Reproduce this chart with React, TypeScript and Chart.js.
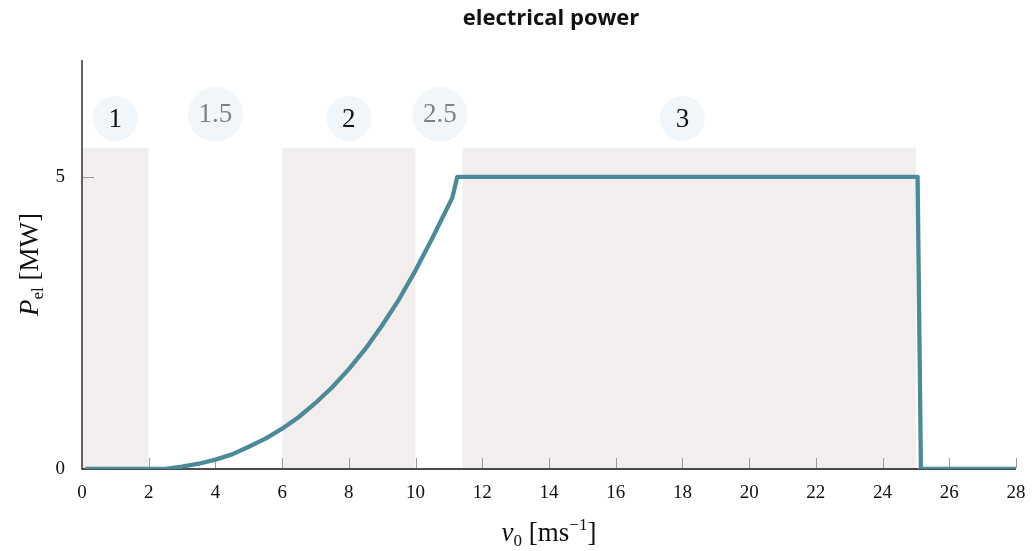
import React, { useEffect, useRef } from "react";
import { Chart, registerables } from "chart.js";
Chart.register(...registerables);

// Wind speed v0 [m/s] and electrical power P_el [MW]
const windSpeed = [0.1, 2.5, 3, 3.5, 4, 4.5, 5, 5.5, 6, 6.5, 7, 7.5, 8, 8.5, 9, 9.5, 10, 10.5, 11.1, 11.25, 25.05, 25.15, 28];
const power = [0, 0, 0.04, 0.09, 0.16, 0.25, 0.38, 0.52, 0.69, 0.89, 1.13, 1.4, 1.71, 2.06, 2.46, 2.9, 3.4, 3.95, 4.64, 5, 5, 0, 0];

// Operating regions (shaded)
const regionStart = [0, 6, 11.4];
const regionEnd = [2, 10, 25];
const regionTop = 5.5;

// Region labels
const regionLabels = ["1", "2", "3"];
const regionLabelX = [1, 8, 18];
const regionLabelY = [6, 6, 6];
const transitionLabels = ["1.5", "2.5"];
const transitionLabelX = [4, 10.73];
const transitionLabelY = [6.07, 6.07];

const xTicks = [0, 2, 4, 6, 8, 10, 12, 14, 16, 18, 20, 22, 24, 26, 28];
const yTicks = [0, 5];

const SERIF = "'Liberation Serif', 'DejaVu Serif', serif";
const BUBBLE = "#f0f6f9";

function drawRuns(ctx: CanvasRenderingContext2D, runs: { t: string; font: string; dy: number }[], cx: number, cy: number) {
  let total = 0;
  for (const r of runs) {
    ctx.font = r.font;
    total += ctx.measureText(r.t).width;
  }
  let x = cx - total / 2;
  ctx.textAlign = "left";
  ctx.textBaseline = "alphabetic";
  for (const r of runs) {
    ctx.font = r.font;
    ctx.fillText(r.t, x, cy + r.dy);
    x += ctx.measureText(r.t).width;
  }
}

const decorPlugin = {
  id: "decor",
  beforeDatasetDraw(chart: any, args: any) {
    if (args.index !== 0) return;
    const ctx: CanvasRenderingContext2D = chart.ctx;
    const area = chart.chartArea;
    ctx.save();
    ctx.strokeStyle = "#111";
    ctx.lineWidth = 1.3;
    ctx.beginPath();
    ctx.moveTo(area.left, area.top);
    ctx.lineTo(area.left, area.bottom);
    ctx.lineTo(area.right, area.bottom);
    ctx.stroke();
    // inward ticks
    const xs = chart.scales.x;
    const ys = chart.scales.y;
    ctx.strokeStyle = "#9a9a9a";
    ctx.lineWidth = 1;
    ctx.beginPath();
    for (const v of xTicks) {
      if (v === 0) continue;
      const px = Math.round(xs.getPixelForValue(v)) + 0.5;
      ctx.moveTo(px, area.bottom - 1);
      ctx.lineTo(px, area.bottom - 11);
    }
    for (const v of yTicks) {
      if (v === 0) continue;
      const py = Math.round(ys.getPixelForValue(v)) + 0.5;
      ctx.moveTo(area.left + 1, py);
      ctx.lineTo(area.left + 12, py);
    }
    ctx.stroke();
    ctx.restore();
  },
  afterDatasetsDraw(chart: any) {
    const ctx: CanvasRenderingContext2D = chart.ctx;
    const xs = chart.scales.x;
    const ys = chart.scales.y;
    const area = chart.chartArea;
    ctx.save();

    // circles + labels
    ctx.fillStyle = BUBBLE;
    regionLabels.forEach((t, i) => {
      ctx.beginPath();
      ctx.arc(xs.getPixelForValue(regionLabelX[i]), ys.getPixelForValue(regionLabelY[i]), 22.5, 0, Math.PI * 2);
      ctx.fill();
    });
    transitionLabels.forEach((t, i) => {
      ctx.beginPath();
      ctx.arc(xs.getPixelForValue(transitionLabelX[i]), ys.getPixelForValue(transitionLabelY[i]), 27.5, 0, Math.PI * 2);
      ctx.fill();
    });
    ctx.textAlign = "center";
    ctx.textBaseline = "middle";
    ctx.font = `27px ${SERIF}`;
    ctx.fillStyle = "#111";
    regionLabels.forEach((t, i) => {
      ctx.fillText(t, xs.getPixelForValue(regionLabelX[i]), ys.getPixelForValue(regionLabelY[i]) + 1);
    });
    ctx.fillStyle = "#808080";
    transitionLabels.forEach((t, i) => {
      ctx.fillText(t, xs.getPixelForValue(transitionLabelX[i]), ys.getPixelForValue(transitionLabelY[i]) + 1);
    });

    // title
    ctx.fillStyle = "#111";
    ctx.textAlign = "center";
    ctx.textBaseline = "middle";
    ctx.font = "700 22px 'Open Sans', sans-serif";
    ctx.fillText("electrical power", (area.left + area.right) / 2 + 2, 19);

    // x-axis title
    ctx.fillStyle = "#111";
    drawRuns(
      ctx,
      [
        { t: "v", font: `italic 27px ${SERIF}`, dy: 0 },
        { t: "0", font: `17px ${SERIF}`, dy: 5 },
        { t: " [ms", font: `27px ${SERIF}`, dy: 0 },
        { t: "\u22121", font: `17px ${SERIF}`, dy: -11 },
        { t: "]", font: `27px ${SERIF}`, dy: 0 },
      ],
      (area.left + area.right) / 2,
      541
    );

    // y-axis title
    ctx.save();
    ctx.translate(38, (area.top + area.bottom) / 2);
    ctx.rotate(-Math.PI / 2);
    drawRuns(
      ctx,
      [
        { t: "P", font: `italic 27px ${SERIF}`, dy: 0 },
        { t: "el", font: `17px ${SERIF}`, dy: 5 },
        { t: " [MW]", font: `27px ${SERIF}`, dy: 0 },
      ],
      0,
      0
    );
    ctx.restore();
    ctx.restore();
  },
};

export default function App() {
  const ref = useRef<HTMLCanvasElement>(null);
  useEffect(() => {
    if (!ref.current) return;
    const regionSets = regionStart.map((s, i) => ({
      type: "line" as const,
      data: [
        { x: s, y: regionTop },
        { x: regionEnd[i], y: regionTop },
      ],
      fill: "origin",
      backgroundColor: "#f2eeed",
      borderColor: "rgba(0,0,0,0)",
      borderWidth: 0,
      pointRadius: 0,
      order: 3,
    }));
    const chart = new Chart(ref.current, {
      type: "line",
      data: {
        datasets: [
          {
            data: windSpeed.map((v, i) => ({ x: v, y: power[i] })),
            borderColor: "#4b8a99",
            borderWidth: 4.3,
            pointRadius: 0,
            fill: false,
            tension: 0,
            borderJoinStyle: "round",
            order: 0,
          } as any,
          ...regionSets,
        ],
      },
      options: {
        responsive: false,
        animation: false,
        layout: { padding: { top: 60, right: 19, left: 0, bottom: 0 } },
        plugins: {
          legend: { display: false },
          tooltip: { enabled: false },
          title: { display: false },
        },
        scales: {
          x: {
            type: "linear",
            min: 0,
            max: 28,
            afterBuildTicks: (s: any) => {
              s.ticks = xTicks.map((v) => ({ value: v }));
            },
            afterFit: (s: any) => {
              s.height = 82;
              s.paddingRight = 0;
              s.paddingLeft = 0;
            },
            grid: { display: false },
            border: { display: false },
            ticks: { color: "#111", padding: 5, font: { family: SERIF, size: 19 }, maxRotation: 0 },
          },
          y: {
            type: "linear",
            min: 0,
            max: 7,
            afterBuildTicks: (s: any) => {
              s.ticks = yTicks.map((v) => ({ value: v }));
            },
            afterFit: (s: any) => {
              s.width = 82;
              s.paddingTop = 0;
              s.paddingBottom = 0;
            },
            grid: { display: false },
            border: { display: false },
            ticks: { color: "#111", padding: 9, font: { family: SERIF, size: 19 } },
          },
        },
      } as any,
      plugins: [decorPlugin],
    });
    return () => chart.destroy();
  }, []);
  return (
    <div style={{ position: "fixed", left: 0, top: 0, width: 1035, height: 551, background: "#fff" }}>
      <canvas ref={ref} width={1035} height={551} style={{ display: "block" }} />
    </div>
  );
}
